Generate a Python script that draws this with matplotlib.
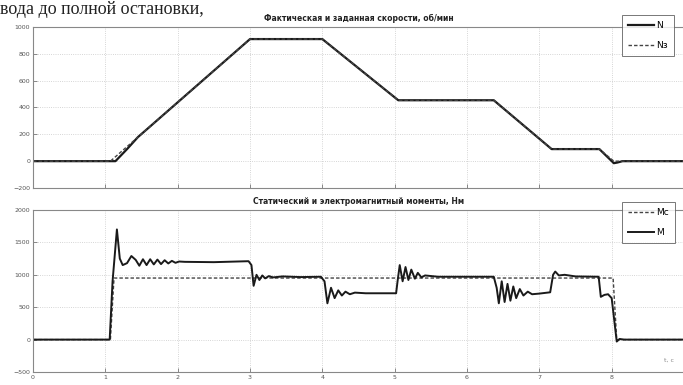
import matplotlib
matplotlib.use("Agg")
import matplotlib.pyplot as plt

# ---- data ----
# speed, rpm
N_t = [0, 1.14, 1.30, 1.45, 3.00, 4.00, 5.05, 6.37, 7.17, 7.83, 8.03, 8.08, 8.15, 9.0]
N_v = [0, 0, 90, 179, 910, 910, 454, 454, 90, 90, -15, -10, 0, 0]
Nz_t = [0, 1.07, 3.00, 4.00, 5.05, 6.37, 7.17, 7.83, 8.03, 9.0]
Nz_v = [0, 0, 910, 910, 454, 454, 90, 90, 0, 0]

# torques, Nm
Mc_t = [0, 1.07, 1.12, 8.02, 8.07, 9.0]
Mc_v = [0, 0, 950, 950, 0, 0]
M_t = [0, 1.06, 1.10, 1.16, 1.20, 1.24, 1.30, 1.36, 1.42, 1.47, 1.52, 1.57, 1.62,
       1.67, 1.72, 1.77, 1.82, 1.87, 1.92, 1.97, 2.02, 2.10, 2.50, 2.98,
       3.02, 3.05, 3.09, 3.13, 3.17, 3.21, 3.26, 3.32, 3.45, 3.70, 3.98,
       4.03, 4.07, 4.12, 4.17, 4.22, 4.27, 4.32, 4.38, 4.45, 4.60, 5.02,
       5.04, 5.07, 5.11, 5.15, 5.19, 5.23, 5.28, 5.32, 5.37, 5.42, 5.60, 6.37,
       6.41, 6.44, 6.48, 6.52, 6.56, 6.60, 6.64, 6.68, 6.73, 6.78, 6.84, 6.90,
       7.00, 7.15, 7.19, 7.22, 7.27, 7.35, 7.50, 7.82, 7.85, 7.90, 7.95, 8.00,
       8.07, 8.11, 8.17, 9.0]
M_v = [0, 0, 900, 1700, 1250, 1150, 1180, 1290, 1230, 1140, 1240, 1150, 1240,
       1160, 1235, 1165, 1225, 1175, 1215, 1185, 1205, 1200, 1195, 1210,
       1150, 830, 1000, 920, 990, 945, 980, 960, 975, 965, 970,
       900, 560, 800, 640, 760, 680, 740, 700, 725, 715, 715,
       900, 1150, 900, 1120, 920, 1080, 940, 1030, 960, 990, 970, 970,
       800, 560, 900, 580, 860, 600, 820, 640, 780, 680, 740, 700,
       710, 730, 1000, 1050, 990, 1000, 975, 970, 660, 690, 700, 640,
       -30, 10, 0, 0]

x_ticks = [0, 1, 2, 3, 4, 5, 6, 7, 8]
top_yticks = [-200, 0, 200, 400, 600, 800, 1000]
bot_yticks = [-500, 0, 500, 1000, 1500, 2000]
title_top = "Фактическая и заданная скорости, об/мин"
title_bot = "Статический и электромагнитный моменты, Нм"

W, H = 683, 385
fig = plt.figure(figsize=(W / 100, H / 100), dpi=100)
plt.rcParams['font.family'] = ['DejaVu Sans']

def pos(l, t, r, b):
    return [l / W, 1 - b / H, (r - l) / W, (b - t) / H]

ax1 = fig.add_axes(pos(33, 27, 684, 188))
ax2 = fig.add_axes(pos(33, 210, 684, 372))

lc = '#1a1a1a'
ax1.plot(N_t, N_v, color=lc, lw=1.6, label='N')
ax1.plot(Nz_t, Nz_v, color='#444444', lw=1.0, ls=(0, (2.5, 1.5)), label='Nз')
ax2.plot(Mc_t, Mc_v, color='#444444', lw=1.0, ls=(0, (2.5, 1.5)), label='Mc')
ax2.plot(M_t, M_v, color=lc, lw=1.4, label='M')

for ax, yt in ((ax1, top_yticks), (ax2, bot_yticks)):
    ax.set_xlim(0, 9)
    ax.set_ylim(yt[0], yt[-1])
    ax.set_yticks(yt)
    ax.set_xticks(x_ticks)
    ax.grid(True, color='#c8c8c8', lw=0.6, ls=':')
    ax.tick_params(direction='in', length=3, width=0.6, colors='#777777',
                   labelsize=4.5, labelcolor='#555555', pad=2)
    for s in ax.spines.values():
        s.set_color('#888888')
        s.set_linewidth(0.8)
    ax.set_axisbelow(True)

ax1.tick_params(labelbottom=False)
ax1.set_title(title_top, fontsize=5.5, fontweight='bold', color='#222222', pad=4)
ax2.set_title(title_bot, fontsize=5.5, fontweight='bold', color='#222222', pad=4)

legkw = dict(fontsize=6.5, frameon=True, fancybox=False, edgecolor='#555555',
             handlelength=2.8, borderpad=0.7, labelspacing=1.2,
             handletextpad=0.3, borderaxespad=0, bbox_transform=fig.transFigure,
             loc='upper left')
leg1 = ax1.legend(bbox_to_anchor=(622 / W, 1 - 15 / H), **legkw)
leg1.get_frame().set_linewidth(0.7)
leg2 = ax2.legend(bbox_to_anchor=(622 / W, 1 - 202 / H), **legkw)
leg2.get_frame().set_linewidth(0.7)

ax2.text(0.985, 0.06, "t, c", transform=ax2.transAxes, fontsize=4.5,
         color='#888888', ha='right', va='bottom')

fig.text(0.0, 0.998, "вода до полной остановки,", fontsize=13,
         family=['Liberation Serif', 'DejaVu Serif'], color='#222222',
         ha='left', va='top')

fig.savefig('out.png', dpi=100)
